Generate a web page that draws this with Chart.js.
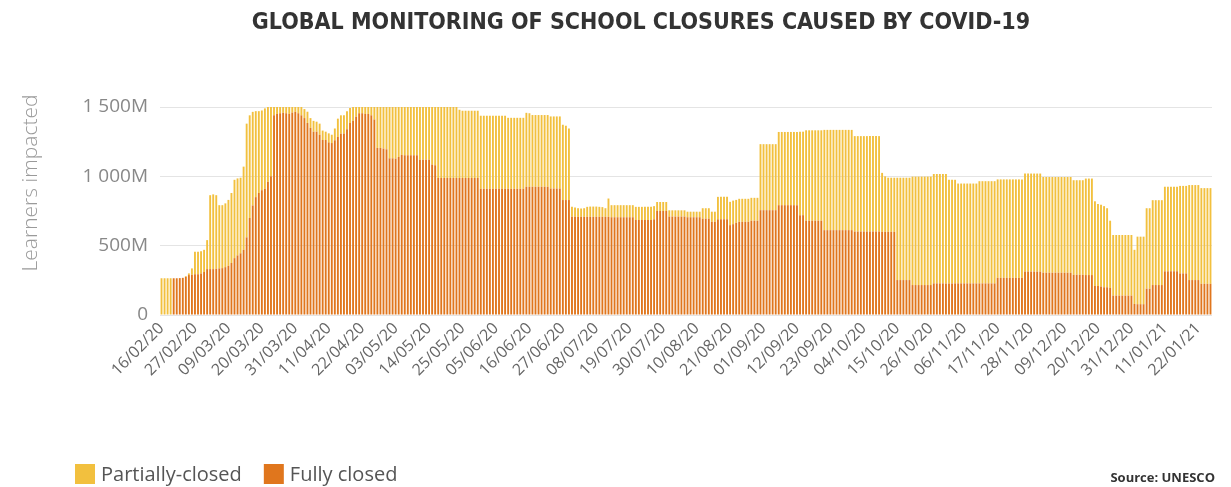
<!DOCTYPE html>
<html>
<head>
<meta charset="utf-8">
<script src="https://cdn.jsdelivr.net/npm/chart.js@4.4.1/dist/chart.umd.min.js"></script>
<style>
  body { margin: 0; background: #fff; }
  #wrap { width: 1231px; height: 487px; }
</style>
</head>
<body>
<div id="wrap"><canvas id="chart"></canvas></div>
<script>
// daily values, millions of learners, from 16/02/20
const fullyClosed = [
  0,0,0,0,265,265,266,268,275,288,
  290,293,293,300,310,331,331,331,333,336,
  338,345,355,375,410,430,445,470,560,700,
  790,850,880,900,910,960,1000,1440,1450,1455,
  1458,1455,1450,1460,1465,1455,1440,1420,1385,1350,
  1322,1322,1300,1262,1262,1245,1240,1260,1284,1308,
  1308,1340,1385,1400,1430,1455,1455,1450,1450,1440,
  1410,1205,1205,1200,1195,1130,1130,1128,1140,1155,
  1152,1152,1152,1152,1152,1120,1120,1120,1120,1085,
  1080,988,988,988,988,988,988,988,988,988,
  988,988,988,988,988,910,910,910,910,910,
  910,910,910,910,910,910,910,910,910,910,
  925,925,925,925,925,925,925,925,912,912,
  912,912,829,829,829,708,708,708,708,708,
  708,708,708,708,708,708,708,708,705,705,
  705,705,705,705,705,705,685,685,685,685,
  685,685,690,750,750,750,750,710,710,710,
  710,710,710,705,705,705,705,705,695,695,
  695,672,672,690,690,690,690,648,655,665,
  672,672,672,672,680,680,680,756,756,756,
  756,756,756,792,792,792,792,792,792,792,
  720,720,680,680,680,680,680,680,612,612,
  612,612,612,612,612,612,612,612,602,602,
  602,602,602,602,602,602,602,600,600,600,
  600,600,252,252,252,252,252,216,216,216,
  216,216,216,216,228,228,228,228,228,228,
  228,228,228,228,228,228,228,228,228,228,
  228,228,228,228,228,268,268,268,268,268,
  268,268,268,268,313,313,313,313,313,313,
  305,305,305,305,305,305,305,305,305,305,
  290,290,290,290,288,288,288,210,210,205,
  200,200,195,140,140,140,140,140,140,140,
  80,78,78,78,190,190,216,216,216,216,
  315,315,315,315,315,300,300,300,252,252,
  252,252,225,225,225,225
];

const partiallyClosed = [
  265,265,265,265,0,0,0,0,5,12,
  46,163,163,160,160,209,533,539,531,456,
  454,460,475,505,565,555,545,600,820,740,
  675,620,590,575,580,540,500,60,50,45,
  42,45,50,40,35,45,60,65,81,70,
  78,72,80,68,60,65,60,85,132,132,
  132,130,108,100,70,45,45,50,50,60,
  90,295,295,300,305,370,370,372,360,345,
  348,348,348,348,348,380,380,380,380,415,
  420,512,512,512,512,512,512,512,492,485,
  485,485,485,485,485,527,527,527,527,527,
  527,527,527,527,512,512,512,512,512,512,
  533,530,517,517,517,517,517,517,520,520,
  520,520,543,536,516,72,67,62,60,62,
  72,74,74,74,72,70,62,132,87,87,
  87,87,87,87,87,87,95,95,95,95,
  95,95,95,65,65,65,65,45,45,45,
  45,45,45,40,40,40,40,40,75,75,
  75,73,73,162,162,162,162,168,170,165,
  166,166,166,166,165,165,165,476,476,476,
  476,476,476,528,528,528,528,528,528,528,
  602,602,652,652,652,652,652,652,723,723,
  723,723,723,723,723,723,723,723,688,688,
  688,688,688,688,688,688,688,425,400,390,
  390,390,738,738,738,738,738,782,782,782,
  782,782,782,782,789,789,789,789,789,747,
  747,747,720,720,720,720,720,720,720,737,
  737,737,737,737,737,710,710,710,710,710,
  710,710,710,710,707,707,707,707,707,707,
  690,690,690,690,690,690,690,690,690,690,
  682,682,682,682,696,696,696,610,590,590,
  585,570,485,437,437,437,437,437,437,437,
  390,487,487,487,580,580,612,612,612,612,
  610,610,610,610,610,631,631,631,685,685,
  685,685,690,690,690,690
];

const xTickLabels = [
  '16/02/20','27/02/20','09/03/20','20/03/20','31/03/20','11/04/20','22/04/20','03/05/20',
  '14/05/20','25/05/20','05/06/20','16/06/20','27/06/20','08/07/20','19/07/20','30/07/20',
  '10/08/20','21/08/20','01/09/20','12/09/20','23/09/20','04/10/20','15/10/20','26/10/20',
  '06/11/20','17/11/20','28/11/20','09/12/20','20/12/20','31/12/20','11/01/21','22/01/21'
];
const yTickLabels = ['0', '500M', '1 000M', '1 500M'];

const seriesNames = ['Partially-closed', 'Fully closed'];
const seriesColors = ['#f2c03e', '#e0761d'];

const chartTitle = 'GLOBAL MONITORING OF SCHOOL CLOSURES CAUSED BY COVID-19';
const yTitle = 'Learners impacted';
const sourceText = 'Source: UNESCO';

// one label per day
function makeDays() {
  const days = [];
  const d = new Date(Date.UTC(2020, 1, 16));
  for (let i = 0; i < fullyClosed.length; i++) {
    const dd = String(d.getUTCDate()).padStart(2, '0');
    const mm = String(d.getUTCMonth() + 1).padStart(2, '0');
    const yy = String(d.getUTCFullYear()).slice(2);
    days.push(dd + '/' + mm + '/' + yy);
    d.setUTCDate(d.getUTCDate() + 1);
  }
  return days;
}
const days = makeDays();

// title, axis title, legend and source drawn on the canvas
const decorations = {
  id: 'decorations',
  afterDraw(chart) {
    const ctx = chart.ctx;
    ctx.save();

    ctx.fillStyle = '#333';
    ctx.font = 'bold 23px "Liberation Sans Narrow", "DejaVu Sans Condensed", sans-serif';
    ctx.textAlign = 'center';
    ctx.textBaseline = 'middle';
    ctx.fillText(chartTitle, 641, 23);

    ctx.save();
    ctx.translate(31, 183);
    ctx.rotate(-Math.PI / 2);
    ctx.fillStyle = '#9a9a9a';
    ctx.font = '300 21px "Open Sans", sans-serif';
    ctx.fillText(yTitle, 0, 0);
    ctx.restore();

    ctx.textAlign = 'left';
    ctx.font = '20px "Open Sans", sans-serif';
    let x = 75;
    seriesNames.forEach((name, i) => {
      ctx.fillStyle = seriesColors[i];
      ctx.fillRect(x, 464, 20, 20);
      ctx.fillStyle = '#555';
      ctx.fillText(name, x + 26, 475);
      x += 26 + ctx.measureText(name).width + 22;
    });

    ctx.textAlign = 'right';
    ctx.fillStyle = '#333';
    ctx.font = 'bold 13px "Open Sans", sans-serif';
    ctx.fillText(sourceText, 1215, 478);
    ctx.restore();
  }
};

const ctx = document.getElementById('chart');
new Chart(ctx, {
  type: 'bar',
  data: {
    labels: days,
    datasets: [
      {
        label: seriesNames[1],
        data: fullyClosed,
        backgroundColor: seriesColors[1],
        barPercentage: 0.62,
        categoryPercentage: 1
      },
      {
        label: seriesNames[0],
        data: partiallyClosed,
        backgroundColor: seriesColors[0],
        barPercentage: 0.62,
        categoryPercentage: 1
      }
    ]
  },
  options: {
    responsive: true,
    maintainAspectRatio: false,
    animation: false,
    layout: { padding: { top: 107, right: 19, bottom: 0, left: 0 } },
    plugins: {
      legend: { display: false },
      title: { display: false },
      tooltip: { enabled: false }
    },
    scales: {
      x: {
        stacked: true,
        grid: { display: false, drawTicks: false },
        border: { display: false },
        ticks: {
          autoSkip: false,
          maxRotation: 45,
          minRotation: 45,
          padding: 4,
          color: '#666',
          font: { family: 'Open Sans', size: 16 },
          callback: function (value) {
            const label = this.getLabelForValue(value);
            return xTickLabels.includes(label) ? label : '';
          }
        },
        afterFit(scale) { scale.height = 172; }
      },
      y: {
        stacked: true,
        min: 0,
        max: 1500,
        grid: { color: '#e4e4e4', drawTicks: false },
        border: { display: false },
        ticks: {
          stepSize: 500,
          padding: 12,
          color: '#888',
          font: { family: 'Open Sans', size: 19 },
          callback: (v) => yTickLabels[v / 500]
        },
        afterFit(scale) { scale.width = 160; }
      }
    }
  },
  plugins: [decorations]
});
</script>
</body>
</html>
